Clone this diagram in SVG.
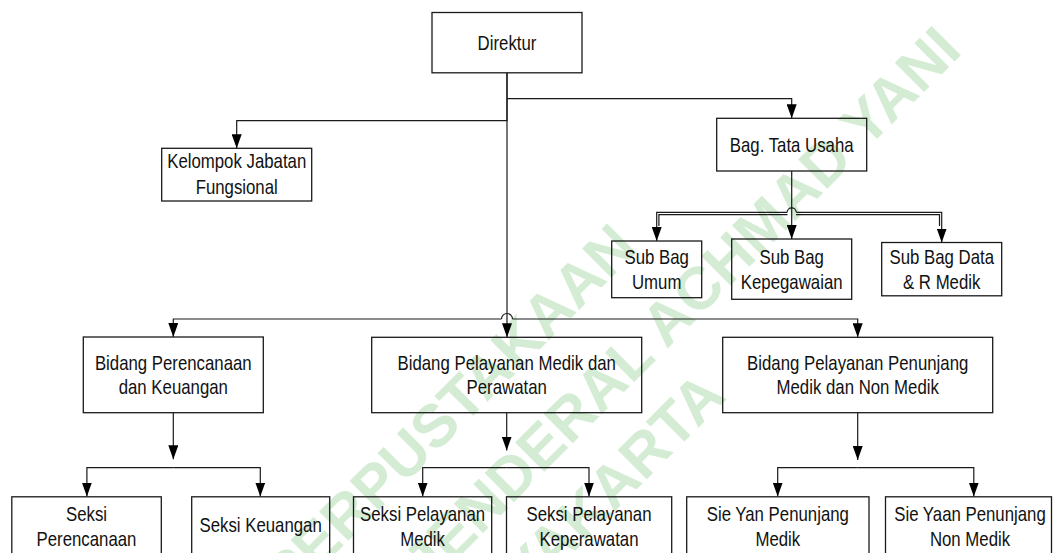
<svg xmlns="http://www.w3.org/2000/svg" width="1056" height="553" viewBox="0 0 1056 553">
<style>
.wm{font-family:"Liberation Sans",Arial,sans-serif;font-weight:bold;font-size:60px;fill:#d3ecd3;text-anchor:middle}
.box{fill:none;stroke:#1a1a1a;stroke-width:1.3}
.t{font-family:"Liberation Sans",Arial,sans-serif;font-size:16.8px;fill:#111;text-anchor:middle}
.c{fill:none;stroke:#1a1a1a;stroke-width:1.2}
</style>
<defs>
<marker id="ah" viewBox="0 0 14 10" refX="14" refY="5" markerWidth="14" markerHeight="10" markerUnits="userSpaceOnUse" orient="auto">
<path d="M0,0 L14,5 L0,10 z" fill="#000"/>
</marker>
</defs>
<rect width="1056" height="553" fill="#fff"/>
<g id="watermark">
<text class="wm" transform="translate(464,425) rotate(-45)">PERPUSTAKAAN</text>
<text class="wm" transform="translate(696,320) rotate(-45)">JENDERAL ACHMAD YANI</text>
<text class="wm" style="text-anchor:end" transform="translate(728,398) rotate(-45)">YOGYAKARTA</text>
</g>
<g id="connectors">
<path class="c" d="M507,73 V120.7 H236.7 V148.3" marker-end="url(#ah)"/>
<path class="c" d="M507,98.7 H791.7 V118.3" marker-end="url(#ah)"/>
<path class="c" d="M507,73 V337.3" marker-end="url(#ah)"/>
<path class="c" d="M501.5,319 H173.3 V337" marker-end="url(#ah)"/>
<path class="c" d="M512.5,319 H857.7 V337.3" marker-end="url(#ah)"/>
<path class="c" d="M501.5,319 A5.5,5.5 0 0 1 512.5,319"/>
<path class="c" d="M791.7,171 V239" marker-end="url(#ah)"/>
<path class="c" d="M787.2,212.3 H656.7 V241" marker-end="url(#ah)"/>
<path class="c" d="M796.2,212.3 H941.7 V242.5" marker-end="url(#ah)"/>
<path class="c" d="M787.2,212.3 A4.5,4.5 0 0 1 796.2,212.3"/>
<path class="c" d="M787.5,214.6 H658.9 V226"/>
<path class="c" d="M796,214.6 H939.5 V226"/>
<path class="c" d="M173.3,412.7 V459.3" marker-end="url(#ah)"/>
<path class="c" d="M173.3,467.7 H86.9 V496.5" marker-end="url(#ah)"/>
<path class="c" d="M173.3,467.7 H260.3 V496.5" marker-end="url(#ah)"/>
<path class="c" d="M506.7,412.7 V450.5" marker-end="url(#ah)"/>
<path class="c" d="M506.7,467.7 H422.7 V496.5" marker-end="url(#ah)"/>
<path class="c" d="M506.7,467.7 H589 V496.5" marker-end="url(#ah)"/>
<path class="c" d="M857.7,412.7 V460" marker-end="url(#ah)"/>
<path class="c" d="M857.7,467.7 H777.7 V496.5" marker-end="url(#ah)"/>
<path class="c" d="M857.7,467.7 H973.8 V496.5" marker-end="url(#ah)"/>
</g>
<g id="direktur"><rect class="box" x="432" y="12.5" width="150" height="60.3"/>
<text class="t" transform="translate(507,49.5) scale(1,1.18)">Direktur</text></g>
<g id="kelompok"><rect class="box" x="161.7" y="148.3" width="150" height="52.7"/>
<text class="t" transform="translate(236.7,168) scale(1,1.18)">Kelompok Jabatan</text>
<text class="t" transform="translate(236.7,193.5) scale(1,1.18)">Fungsional</text></g>
<g id="tatausaha"><rect class="box" x="716.7" y="118.3" width="150" height="52.7"/>
<text class="t" transform="translate(791.7,151.5) scale(1,1.18)">Bag. Tata Usaha</text></g>
<g id="umum"><rect class="box" x="611.7" y="241" width="90" height="56.7"/>
<text class="t" transform="translate(656.7,263.8) scale(1,1.18)">Sub Bag</text>
<text class="t" transform="translate(656.7,288.8) scale(1,1.18)">Umum</text></g>
<g id="kepegawaian"><rect class="box" x="731.7" y="239" width="120" height="60.3"/>
<text class="t" transform="translate(791.7,263.8) scale(1,1.18)">Sub Bag</text>
<text class="t" transform="translate(791.7,288.8) scale(1,1.18)">Kepegawaian</text></g>
<g id="datamedik"><rect class="box" x="881.7" y="242.5" width="120" height="53.3"/>
<text class="t" transform="translate(941.7,263.8) scale(1,1.18)">Sub Bag Data</text>
<text class="t" transform="translate(941.7,288.8) scale(1,1.18)">&amp; R Medik</text></g>
<g id="perencanaan"><rect class="box" x="83.3" y="337" width="180" height="75.7"/>
<text class="t" transform="translate(173.3,369.5) scale(1,1.18)">Bidang Perencanaan</text>
<text class="t" transform="translate(173.3,394.3) scale(1,1.18)">dan Keuangan</text></g>
<g id="pelayananmedik"><rect class="box" x="371.7" y="337.3" width="270" height="75.4"/>
<text class="t" transform="translate(506.7,369.5) scale(1,1.18)">Bidang Pelayanan Medik dan</text>
<text class="t" transform="translate(506.7,394.3) scale(1,1.18)">Perawatan</text></g>
<g id="penunjang"><rect class="box" x="722.7" y="337.3" width="270" height="75.4"/>
<text class="t" transform="translate(857.7,369.5) scale(1,1.18)">Bidang Pelayanan Penunjang</text>
<text class="t" transform="translate(857.7,394.3) scale(1,1.18)">Medik dan Non Medik</text></g>
<g id="seksiperencanaan"><rect class="box" x="11.8" y="496.8" width="149.5" height="70"/>
<text class="t" transform="translate(86.5,521) scale(1,1.18)">Seksi</text>
<text class="t" transform="translate(86.5,546) scale(1,1.18)">Perencanaan</text></g>
<g id="seksikeuangan"><rect class="box" x="191.7" y="496.8" width="138" height="70"/>
<text class="t" transform="translate(260.6,531.5) scale(1,1.18)">Seksi Keuangan</text></g>
<g id="seksimedik"><rect class="box" x="353.5" y="496.8" width="138.2" height="70"/>
<text class="t" transform="translate(422.6,521) scale(1,1.18)">Seksi Pelayanan</text>
<text class="t" transform="translate(422.6,546) scale(1,1.18)">Medik</text></g>
<g id="seksikeperawatan"><rect class="box" x="506.5" y="496.8" width="165.2" height="70"/>
<text class="t" transform="translate(589,521) scale(1,1.18)">Seksi Pelayanan</text>
<text class="t" transform="translate(589,546) scale(1,1.18)">Keperawatan</text></g>
<g id="sieyanmedik"><rect class="box" x="686.7" y="496.8" width="182.3" height="70"/>
<text class="t" transform="translate(777.8,521) scale(1,1.18)">Sie Yan Penunjang</text>
<text class="t" transform="translate(777.8,546) scale(1,1.18)">Medik</text></g>
<g id="sieyaannonmedik"><rect class="box" x="885.5" y="496.8" width="166" height="70"/>
<text class="t" transform="translate(970,521) scale(1,1.18)">Sie Yaan Penunjang</text>
<text class="t" transform="translate(970,546) scale(1,1.18)">Non Medik</text></g>
</svg>
